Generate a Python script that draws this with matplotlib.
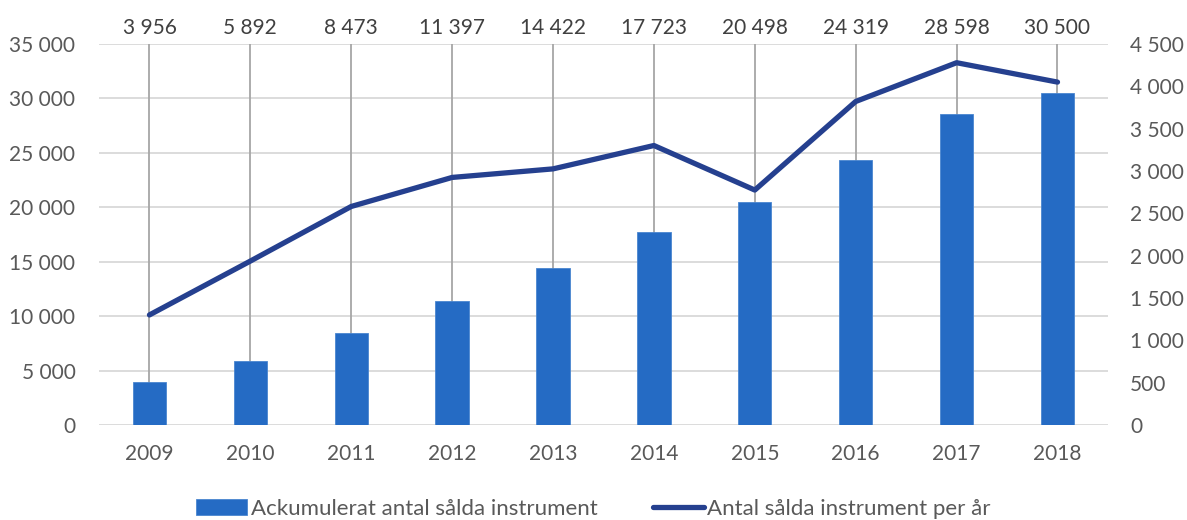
import numpy as np
import matplotlib.pyplot as plt
from matplotlib.ticker import FuncFormatter

# data
years = ["2009", "2010", "2011", "2012", "2013", "2014", "2015", "2016", "2017", "2018"]
accumulated = [3956, 5892, 8473, 11397, 14422, 17723, 20498, 24319, 28598, 30500]
per_year = [1300, 1936, 2581, 2924, 3025, 3301, 2775, 3821, 4279, 4050]

plt.rcParams['font.family'] = ['Lato', 'DejaVu Sans']

bar_color = '#256bc4'
line_color = '#25408f'
grid_color = '#d9d9d9'
tick_color = '#595959'

fig = plt.figure(figsize=(11.87, 5.2), dpi=100)
ax = fig.add_axes([0.0834, 0.1827, 0.85, 0.7327])
ax2 = ax.twinx()

x = np.arange(len(years))

ax.set_axisbelow(True)
ax.grid(axis='y', color=grid_color, linewidth=1.3)
ax.vlines(x, 0, 35000, color='#a6a6a6', linewidth=1.3, zorder=1.5)
ax.bar(x, accumulated, width=0.33, color=bar_color, edgecolor='#4a86d0',
       linewidth=0.6, zorder=2, label="Ackumulerat antal sålda instrument")
ax2.plot(x, per_year, color=line_color, linewidth=3.8, solid_capstyle='round',
         label="Antal sålda instrument per år", zorder=3)

for xi, v in zip(x, accumulated):
    ax.text(xi, 36500, f"{v:,}".replace(",", " "), ha='center', va='center',
            fontsize=15, color='#404040')

fmt = FuncFormatter(lambda v, p: f"{int(v):,}".replace(",", " "))
ax.set_ylim(0, 35000)
ax.set_yticks(np.arange(0, 35001, 5000))
ax.yaxis.set_major_formatter(fmt)
ax2.set_ylim(0, 4500)
ax2.set_yticks(np.arange(0, 4501, 500))
ax2.yaxis.set_major_formatter(fmt)
ax.set_xlim(-0.5, len(years) - 0.5)
ax.set_xticks(x)
ax.set_xticklabels(years)

for a in (ax, ax2):
    for s in a.spines.values():
        s.set_visible(False)
    a.tick_params(length=0, labelsize=15, labelcolor=tick_color)
ax.tick_params(axis='y', pad=17)
ax2.tick_params(axis='y', pad=16)
ax.tick_params(axis='x', pad=14)

h1, l1 = ax.get_legend_handles_labels()
h2, l2 = ax2.get_legend_handles_labels()
fig.legend(h1 + h2, l1 + l2, loc='center', bbox_to_anchor=(0.5, 0.022), ncol=2,
           frameon=False, fontsize=16, labelcolor=tick_color, handlelength=2.3,
           handletextpad=0.15, columnspacing=2.5)

fig.savefig("out.png", dpi=100)
